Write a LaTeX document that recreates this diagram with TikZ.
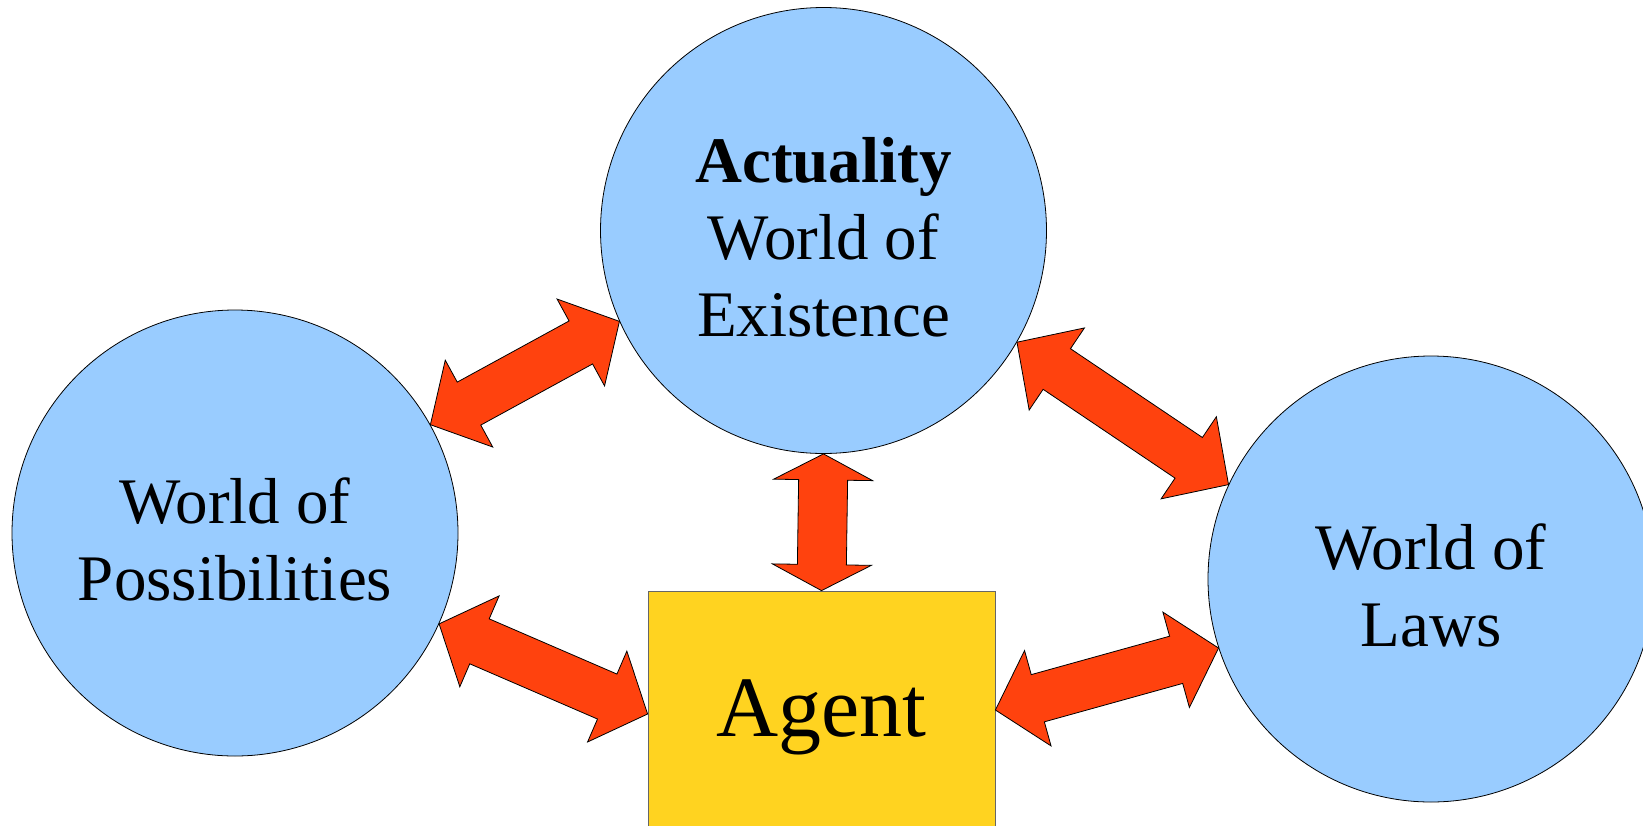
\documentclass[tikz,border=0pt]{standalone}
\usepackage{fontspec}
\setmainfont{Liberation Serif}
\usepackage{tikz}
\usetikzlibrary{calc}

\definecolor{worldblue}{HTML}{99CCFF}
\definecolor{agentyellow}{HTML}{FFD320}
\definecolor{arrowred}{HTML}{FF420E}

\tikzset{
  world/.style={circle, draw=black, fill=worldblue, minimum size=223pt, inner sep=0pt},
  worldtext/.style={align=center, inner sep=0pt, font=\fontsize{32.5}{38.5}\selectfont},
  agentbox/.style={rectangle, draw=black!60, fill=agentyellow, minimum width=173.5pt,
    minimum height=126pt, font=\fontsize{43}{50}\selectfont},
  fatarrow/.style={draw=black, fill=arrowred, line width=0.4pt, line join=miter}
}

% fat double arrow: from, to, head length
\newcommand\twoway[3]{%
  \coordinate (hA) at ($(#1)!#3!(#2)$);
  \coordinate (hB) at ($(#2)!#3!(#1)$);
  \draw[fatarrow] (#1) -- ($(hA)!24.75pt!90:(#2)$) -- ($(hA)!12.25pt!90:(#2)$)
    -- ($(hB)!12.25pt!-90:(#1)$) -- ($(hB)!24.75pt!-90:(#1)$) -- (#2)
    -- ($(hB)!24.75pt!90:(#1)$) -- ($(hB)!12.25pt!90:(#1)$)
    -- ($(hA)!12.25pt!-90:(#2)$) -- ($(hA)!24.75pt!-90:(#2)$) -- cycle;
}

\begin{document}
\begin{tikzpicture}[x=0.5pt, y=-0.5pt]
\useasboundingbox (0,0) rectangle (1643,825);

\node[world] (act) at (823.5,230.5) {};
\node[world] (poss) at (235,533) {};
\node[world] (laws) at (1431,579) {};
\node[agentbox] (agent) at (821.5,717) {Agent};

\node[worldtext] (acttext) at ([yshift=-3.3pt]act.center) {\textbf{Actuality}\\World of\\Existence};
\node[worldtext] (posstext) at ([yshift=-3.3pt]poss.center) {World of\\Possibilities};
\node[worldtext] (lawstext) at ([yshift=-3pt]laws.center) {World of\\Laws};

% arrows
\coordinate (agentleft) at ([yshift=1.5pt]agent.west);
\coordinate (agentright) at ([yshift=3.5pt]agent.east);
\twoway{poss.29}{act.204}{22pt}
\twoway{act.330}{laws.155}{24pt}
\twoway{act.south}{agent.north}{13pt}
\twoway{poss.336}{agentleft}{22pt}
\twoway{agentright}{laws.198}{22pt}

\end{tikzpicture}
\end{document}
